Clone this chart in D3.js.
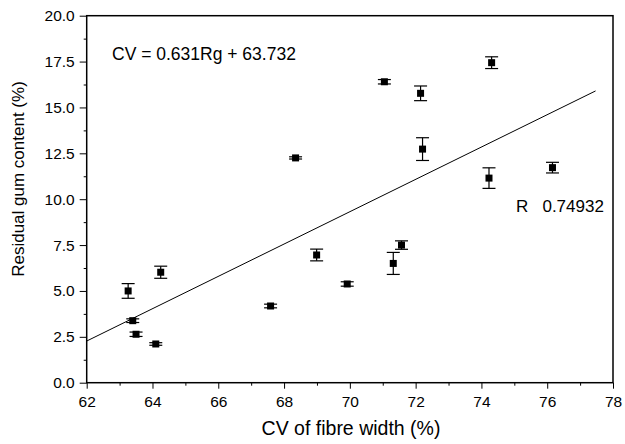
<!DOCTYPE html>
<html><head><meta charset="utf-8">
<script src="https://cdn.jsdelivr.net/npm/d3@7"></script>
<style>body{margin:0;background:#fff}svg{display:block}text{font-family:"Liberation Sans",Arial,sans-serif;fill:#000}</style>
</head><body><svg id="c" width="625" height="444"></svg>
<script>
const cvValues = [63.26,63.40,63.50,64.10,64.25,67.59,68.35,68.99,69.92,71.05,71.32,71.57,72.15,72.21,74.23,74.31,76.16];
const gumValues = [5.00,3.38,2.64,2.11,6.02,4.18,12.25,6.96,5.38,16.40,6.50,7.50,15.77,12.73,11.15,17.44,11.72];
const gumErrors = [0.40,0.10,0.12,0.07,0.33,0.10,0.06,0.32,0.12,0.12,0.60,0.23,0.40,0.62,0.56,0.32,0.29];
const fitX = [62, 77.47];
const fitY = [2.27, 15.9];
const xTicks = [62,64,66,68,70,72,74,76,78];
const yTicks = [0,2.5,5,7.5,10,12.5,15,17.5,20];
const equationText = "CV = 0.631Rg + 63.732";
const rText = "R   0.74932";

const svg = d3.select("#c");
const L=86.7, R=613, T=15.7, B=382.7;
const x = d3.scaleLinear().domain([62,78]).range([L,R]);
const y = d3.scaleLinear().domain([0,20]).range([B,T]);

// axes
svg.append("g").attr("transform",`translate(0,${B})`)
  .call(d3.axisBottom(x).tickValues(xTicks).tickFormat(d3.format("d")).tickSize(6).tickPadding(7));
svg.append("g").attr("transform",`translate(0,${B})`)
  .call(d3.axisBottom(x).tickValues(d3.range(63,78,2)).tickFormat("").tickSize(3));
svg.append("g").attr("transform",`translate(${L},0)`)
  .call(d3.axisLeft(y).tickValues(yTicks).tickFormat(d3.format(".1f")).tickSize(7).tickPadding(5));
svg.append("g").attr("transform",`translate(${L},0)`)
  .call(d3.axisLeft(y).tickValues(d3.range(1.25,20,2.5)).tickFormat("").tickSize(3));
svg.selectAll(".domain").remove();
svg.selectAll(".tick line").attr("stroke","#000").attr("stroke-width",1);
svg.selectAll(".tick text").style("font-size","15.5px").style("font-family","'Liberation Sans',Arial,sans-serif").attr("fill","#000");

// frame
svg.append("rect").attr("x",L).attr("y",T).attr("width",R-L).attr("height",B-T)
  .attr("fill","none").attr("stroke","#000").attr("stroke-width",1.5);

// fit line
svg.append("line").attr("x1",x(fitX[0])).attr("y1",y(fitY[0])).attr("x2",x(fitX[1])).attr("y2",y(fitY[1]))
  .attr("stroke","#000").attr("stroke-width",1);

// error bars
const pts = cvValues.map((c,i)=>({c,g:gumValues[i],e:gumErrors[i]}));
const eb = svg.append("g").attr("stroke","#000").attr("stroke-width",1.2);
pts.forEach(p=>{
  eb.append("line").attr("x1",x(p.c)).attr("x2",x(p.c)).attr("y1",y(p.g-p.e)).attr("y2",y(p.g+p.e));
  [p.g-p.e,p.g+p.e].forEach(v=>eb.append("line").attr("x1",x(p.c)-6.5).attr("x2",x(p.c)+6.5).attr("y1",y(v)).attr("y2",y(v)));
});
svg.append("g").selectAll("rect").data(pts).join("rect")
  .attr("x",d=>x(d.c)-3.5).attr("y",d=>y(d.g)-3.5).attr("width",7).attr("height",7).attr("fill","#000");

// texts
svg.append("text").attr("x",112).attr("y",60).attr("font-size","17.5px").text(equationText);
svg.append("text").attr("x",516).attr("y",212).attr("font-size","17px").style("white-space","pre").text(rText);
svg.append("text").attr("x",351).attr("y",435).attr("text-anchor","middle").attr("font-size","19.5px").text("CV of fibre width (%)");
svg.append("text").attr("transform",`translate(24,179) rotate(-90)`).attr("text-anchor","middle").attr("font-size","17px").text("Residual gum content (%)");
</script></body></html>
